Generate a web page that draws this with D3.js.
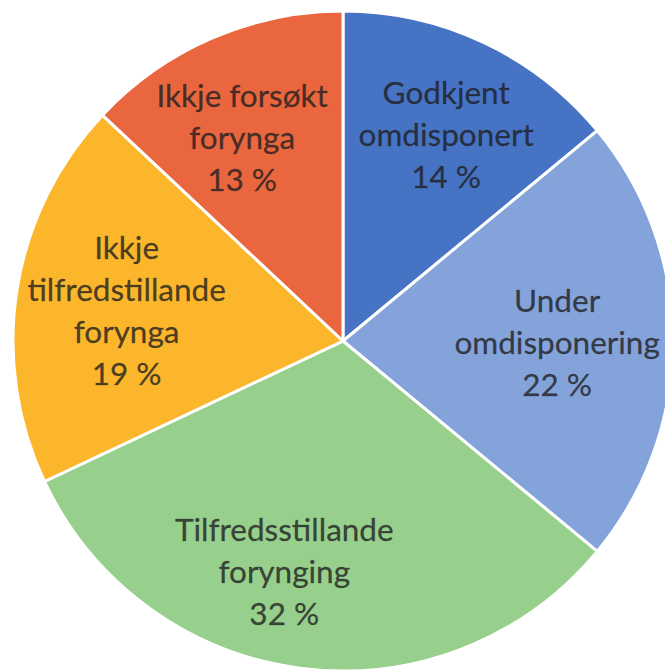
<!DOCTYPE html>
<html>
<head>
<meta charset="utf-8">
<script src="https://cdn.jsdelivr.net/npm/d3@7"></script>
<style>
  body { margin: 0; background: #fff; }
  svg { display: block; }
  .lbl { font-family: Lato, "Open Sans", sans-serif; font-size: 31.5px; fill: #1e1e1e; fill-opacity: 0.8;
         stroke: #1e1e1e; stroke-opacity: 0.5; stroke-width: 0.4px; }
</style>
</head>
<body>
<div id="chart"></div>
<script>
// slices, clockwise from 12 o'clock
const categories = ["Godkjent omdisponert", "Under omdisponering", "Tilfredsstillande forynging", "Ikkje tilfredstillande forynga", "Ikkje forsøkt forynga"];
const labelLines = [["Godkjent", "omdisponert"], ["Under", "omdisponering"], ["Tilfredsstillande", "forynging"], ["Ikkje", "tilfredstillande", "forynga"], ["Ikkje forsøkt", "forynga"]];
const values = [14, 22, 32, 19, 13];
const colors = ["#4773C5", "#84A3DA", "#97CF8C", "#FCB62C", "#E9663F"];

const width = 665, height = 670;
const cx = 343, cy = 341, radius = 330;

// small nudges from the centroid, like the "best fit" placement of the original
const labelNudge = [[9, -6], [-7, 2], [-31, 12], [2, 5], [-13, 0]];

const svg = d3.select("#chart").append("svg")
    .attr("width", width)
    .attr("height", height);

const g = svg.append("g").attr("transform", `translate(${cx},${cy})`);

const data = categories.map((c, i) => ({name: c, value: values[i], lines: labelLines[i], color: colors[i], nudge: labelNudge[i]}));

const pie = d3.pie().sort(null).value(d => d.value);
const arc = d3.arc().innerRadius(0).outerRadius(radius);
const labelArc = d3.arc().innerRadius(radius * 0.67).outerRadius(radius * 0.67);

const arcs = pie(data);

g.selectAll(".slice")
    .data(arcs)
    .enter()
    .append("path")
    .attr("class", "slice")
    .attr("d", arc)
    .attr("fill", d => d.data.color)
    .attr("stroke", "#fff")
    .attr("stroke-width", 3);

const lineH = 42;
const labels = g.selectAll(".lbl")
    .data(arcs)
    .enter()
    .append("text")
    .attr("class", "lbl")
    .attr("text-anchor", "middle")
    .attr("transform", d => {
        const c = labelArc.centroid(d);
        return "translate(" + (c[0] + d.data.nudge[0]) + "," + (c[1] + d.data.nudge[1]) + ")";
    });

labels.each(function (d) {
    const lines = d.data.lines.concat([d.data.value + " %"]);
    const top = -(lines.length - 1) * lineH / 2;
    d3.select(this).selectAll("tspan")
        .data(lines)
        .enter()
        .append("tspan")
        .attr("x", 0)
        .attr("y", (l, i) => top + i * lineH)
        .attr("dy", "0.35em")
        .text(l => l);
});
</script>
</body>
</html>
